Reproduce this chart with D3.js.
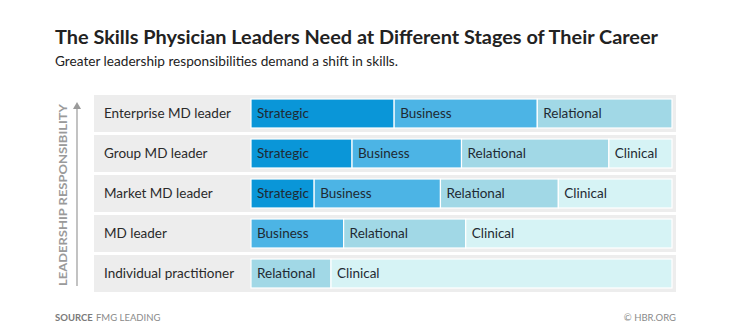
<!DOCTYPE html>
<html>
<head>
<meta charset="utf-8">
<script src="https://cdn.jsdelivr.net/npm/d3@7"></script>
<style>
  html, body { margin: 0; padding: 0; background: #fff; }
  svg { display: block; }
  text { font-family: Lato, "Open Sans", sans-serif; }
</style>
</head>
<body>
<svg id="chart" width="752" height="330"></svg>
<script>
const categories = ["Enterprise MD leader", "Group MD leader", "Market MD leader", "MD leader", "Individual practitioner"];
const skills = ["Strategic", "Business", "Relational", "Clinical"];
const strategic = [34, 24, 15, 0, 0];
const business = [34, 26, 30, 22, 0];
const relational = [32, 35, 28, 29, 19];
const clinical = [0, 15, 27, 49, 81];
const skillColors = ["#0a96d8", "#4cb4e5", "#a1d8e6", "#d6f3f5"];

const title = "The Skills Physician Leaders Need at Different Stages of Their Career";
const subtitle = "Greater leadership responsibilities demand a shift in skills.";
const axisLabel = "LEADERSHIP RESPONSIBILITY";

const rows = categories.map((c, i) => ({
  category: c, Strategic: strategic[i], Business: business[i], Relational: relational[i], Clinical: clinical[i]
}));

const svg = d3.select("#chart");

const x = d3.scaleLinear().domain([0, 100]).range([251, 672]);
const y = d3.scaleBand().domain(categories).range([95, 292]).paddingInner(0.075).paddingOuter(0);

// title & subtitle
svg.append("text").attr("x", 55).attr("y", 44)
  .attr("font-size", 19).attr("font-weight", 700).attr("fill", "#222")
  .attr("textLength", 603).attr("lengthAdjust", "spacingAndGlyphs")
  .text(title);
svg.append("text").attr("x", 55).attr("y", 66)
  .attr("font-size", 13.5).attr("fill", "#222")
  .attr("textLength", 343).attr("lengthAdjust", "spacingAndGlyphs")
  .text(subtitle);

// row backgrounds
svg.append("g").selectAll("rect").data(categories).join("rect")
  .attr("x", 94).attr("width", 582)
  .attr("y", d => y(d)).attr("height", y.bandwidth())
  .attr("fill", "#ededed");

// row labels
svg.append("g").selectAll("text").data(categories).join("text")
  .attr("x", 104).attr("y", d => y(d) + y.bandwidth() / 2 + 4.5)
  .attr("font-size", 13.5).attr("fill", "#2a2a2a")
  .text(d => d);

// stacked segments
const stack = d3.stack().keys(skills)(rows);
const inset = 4;
const g = svg.append("g");
stack.forEach((layer, li) => {
  layer.forEach((d, i) => {
    const w = x(d[1]) - x(d[0]);
    if (w <= 0) return;
    const cy = y(categories[i]);
    g.append("rect")
      .attr("x", x(d[0])).attr("width", w)
      .attr("y", cy + inset).attr("height", y.bandwidth() - 2 * inset)
      .attr("fill", skillColors[li])
      .attr("stroke", "#ffffff").attr("stroke-width", 1.2);
    g.append("text")
      .attr("x", x(d[0]) + 6).attr("y", cy + y.bandwidth() / 2 + 4.5)
      .attr("font-size", 13.5).attr("fill", "#1f2a33")
      .text(skills[li]);
  });
});

// vertical axis label & arrow
svg.append("line").attr("x1", 77).attr("x2", 77).attr("y1", 286).attr("y2", 106)
  .attr("stroke", "#9a9a9a").attr("stroke-width", 1.2);
svg.append("path").attr("d", "M73,109 L77,102 L81,109 Z").attr("fill", "#9a9a9a");
svg.append("text")
  .attr("transform", "translate(67,286) rotate(-90)")
  .attr("font-size", 11.5).attr("font-weight", 700).attr("fill", "#9a9a9a")
  .attr("textLength", 182).attr("lengthAdjust", "spacingAndGlyphs")
  .text(axisLabel);

// footer
svg.append("text").attr("x", 55).attr("y", 321)
  .attr("font-size", 9.5).attr("font-weight", 700).attr("fill", "#7a7a7a")
  .text("SOURCE");
svg.append("text").attr("x", 96).attr("y", 321)
  .attr("font-size", 9.5).attr("fill", "#8a8a8a")
  .text("FMG LEADING");
svg.append("text").attr("x", 676).attr("y", 321).attr("text-anchor", "end")
  .attr("font-size", 9.5).attr("fill", "#8a8a8a")
  .text("© HBR.ORG");
</script>
</body>
</html>
